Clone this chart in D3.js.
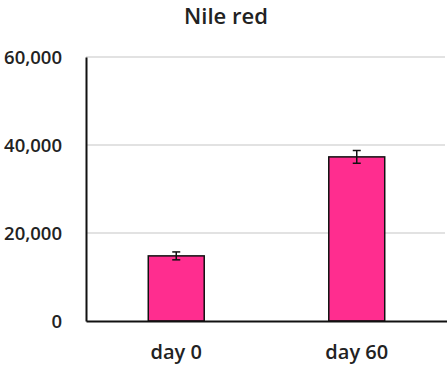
<!DOCTYPE html>
<html><head><meta charset="utf-8">
<script src="https://cdn.jsdelivr.net/npm/d3@7"></script>
<style>body{margin:0;background:#fff}svg{display:block}text{font-family:"Open Sans",sans-serif;fill:#222}</style>
</head><body><svg id="c" width="447" height="369"></svg>
<script>
const categories = ["day 0", "day 60"];
const values = [14800, 37300];
const errors = [900, 1450];
const yTicks = [0, 20000, 40000, 60000];
const title = "Nile red";

const svg = d3.select("#c");
const m = {l: 86, r: 447, t: 57, b: 321};
const y = d3.scaleLinear().domain([0, 60000]).range([m.b, m.t]);
const x = d3.scaleBand().domain(categories).range([m.l, m.r]).paddingInner(0.69).paddingOuter(0.345);

// gridlines
svg.append("g").selectAll("line").data(yTicks.filter(d => d > 0)).join("line")
  .attr("x1", m.l).attr("x2", m.r - 2).attr("y1", d => y(d)).attr("y2", d => y(d))
  .attr("stroke", "#d9d9d9").attr("stroke-width", 1.5);

// y axis
const yAxis = svg.append("g").attr("transform", `translate(${m.l},0)`)
  .call(d3.axisLeft(y).tickValues(yTicks).tickFormat(d3.format(",")).tickSize(0).tickPadding(24));
yAxis.select(".domain").attr("stroke", "#111").attr("stroke-width", 2);
yAxis.selectAll("text").style("font-size", "18.5px").style("font-weight", 600).attr("dy", "0.35em").attr("fill", "#222");

// bars
svg.append("g").selectAll("rect").data(values).join("rect")
  .attr("x", (d, i) => x(categories[i])).attr("width", x.bandwidth())
  .attr("y", d => y(d)).attr("height", d => y(0) - y(d))
  .attr("fill", "#ff2d8f").attr("stroke", "#111").attr("stroke-width", 1.5);

// error bars
const eb = svg.append("g").attr("stroke", "#111").attr("stroke-width", 1.5);
values.forEach((v, i) => {
  const cx = x(categories[i]) + x.bandwidth() / 2;
  eb.append("line").attr("x1", cx).attr("x2", cx).attr("y1", y(v + errors[i])).attr("y2", y(v - errors[i]));
  [v + errors[i], v - errors[i]].forEach(e => eb.append("line").attr("x1", cx - 4).attr("x2", cx + 4).attr("y1", y(e)).attr("y2", y(e)));
});

// x axis
const xAxis = svg.append("g").attr("transform", `translate(0,${m.b})`)
  .call(d3.axisBottom(x).tickSize(0).tickPadding(24));
xAxis.select(".domain").attr("stroke", "#111").attr("stroke-width", 2);
xAxis.selectAll("text").style("font-size", "20px").style("font-weight", 600).attr("fill", "#222");

// title
svg.append("text").attr("x", 226).attr("y", 23.5).attr("text-anchor", "middle")
  .style("font-size", "22px").style("font-weight", 600).text(title);
</script></body></html>
